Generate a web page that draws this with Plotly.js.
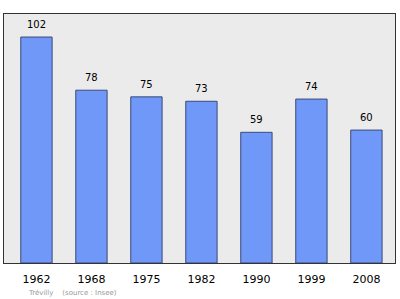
<!DOCTYPE html>
<html>
<head>
<meta charset="utf-8">
<script src="https://cdn.plot.ly/plotly-3.0.1.min.js"></script>
<style>
  html, body { margin: 0; padding: 0; background: #ffffff; }
  #chart { width: 400px; height: 299px; }
</style>
</head>
<body>
<div id="chart"></div>
<script>
// Population of Trévilly by census year
const years = ["1962", "1968", "1975", "1982", "1990", "1999", "2008"];
const population = [102, 78, 75, 73, 59, 74, 60];
const footnote = "Trévilly    (source : Insee)";

const trace = {
  type: "bar",
  x: years,
  y: population,
  width: 0.57,
  marker: {
    color: "#6f98f8",
    line: { color: "#3b4a78", width: 1 }
  },
  hoverinfo: "skip"
};

// value labels sitting just above each bar (category index on the x axis)
const valueLabels = years.map((yr, i) => ({
  x: i,
  y: population[i],
  xref: "x", yref: "y",
  text: String(population[i]),
  showarrow: false,
  yanchor: "bottom",
  yshift: 5,
  font: { family: "DejaVu Sans", size: 10, color: "#000000" }
}));

const layout = {
  width: 400,
  height: 299,
  margin: { l: 4, r: 5, t: 14, b: 36 },
  paper_bgcolor: "#ffffff",
  plot_bgcolor: "#ebebeb",
  showlegend: false,
  font: { family: "DejaVu Sans", color: "#000000" },
  xaxis: {
    type: "category",
    range: [-0.59, 6.52],
    showgrid: false,
    zeroline: false,
    showline: true,
    mirror: true,
    linecolor: "#333333",
    linewidth: 1,
    ticks: "",
    tickfont: { family: "DejaVu Sans", size: 11, color: "#000000" },
    ticklabelstandoff: 6
  },
  yaxis: {
    range: [0, 112.4],
    showgrid: false,
    zeroline: false,
    showline: true,
    mirror: true,
    linecolor: "#333333",
    linewidth: 1,
    showticklabels: false,
    ticks: ""
  },
  annotations: valueLabels.concat([{
    text: footnote,
    xref: "paper", yref: "paper",
    x: 22 / 391, y: -0.095,
    xanchor: "left", yanchor: "top",
    showarrow: false,
    font: { family: "DejaVu Sans", size: 7, color: "#999999" }
  }])
};

Plotly.newPlot("chart", [trace], layout, { displayModeBar: false, staticPlot: true });
</script>
</body>
</html>
